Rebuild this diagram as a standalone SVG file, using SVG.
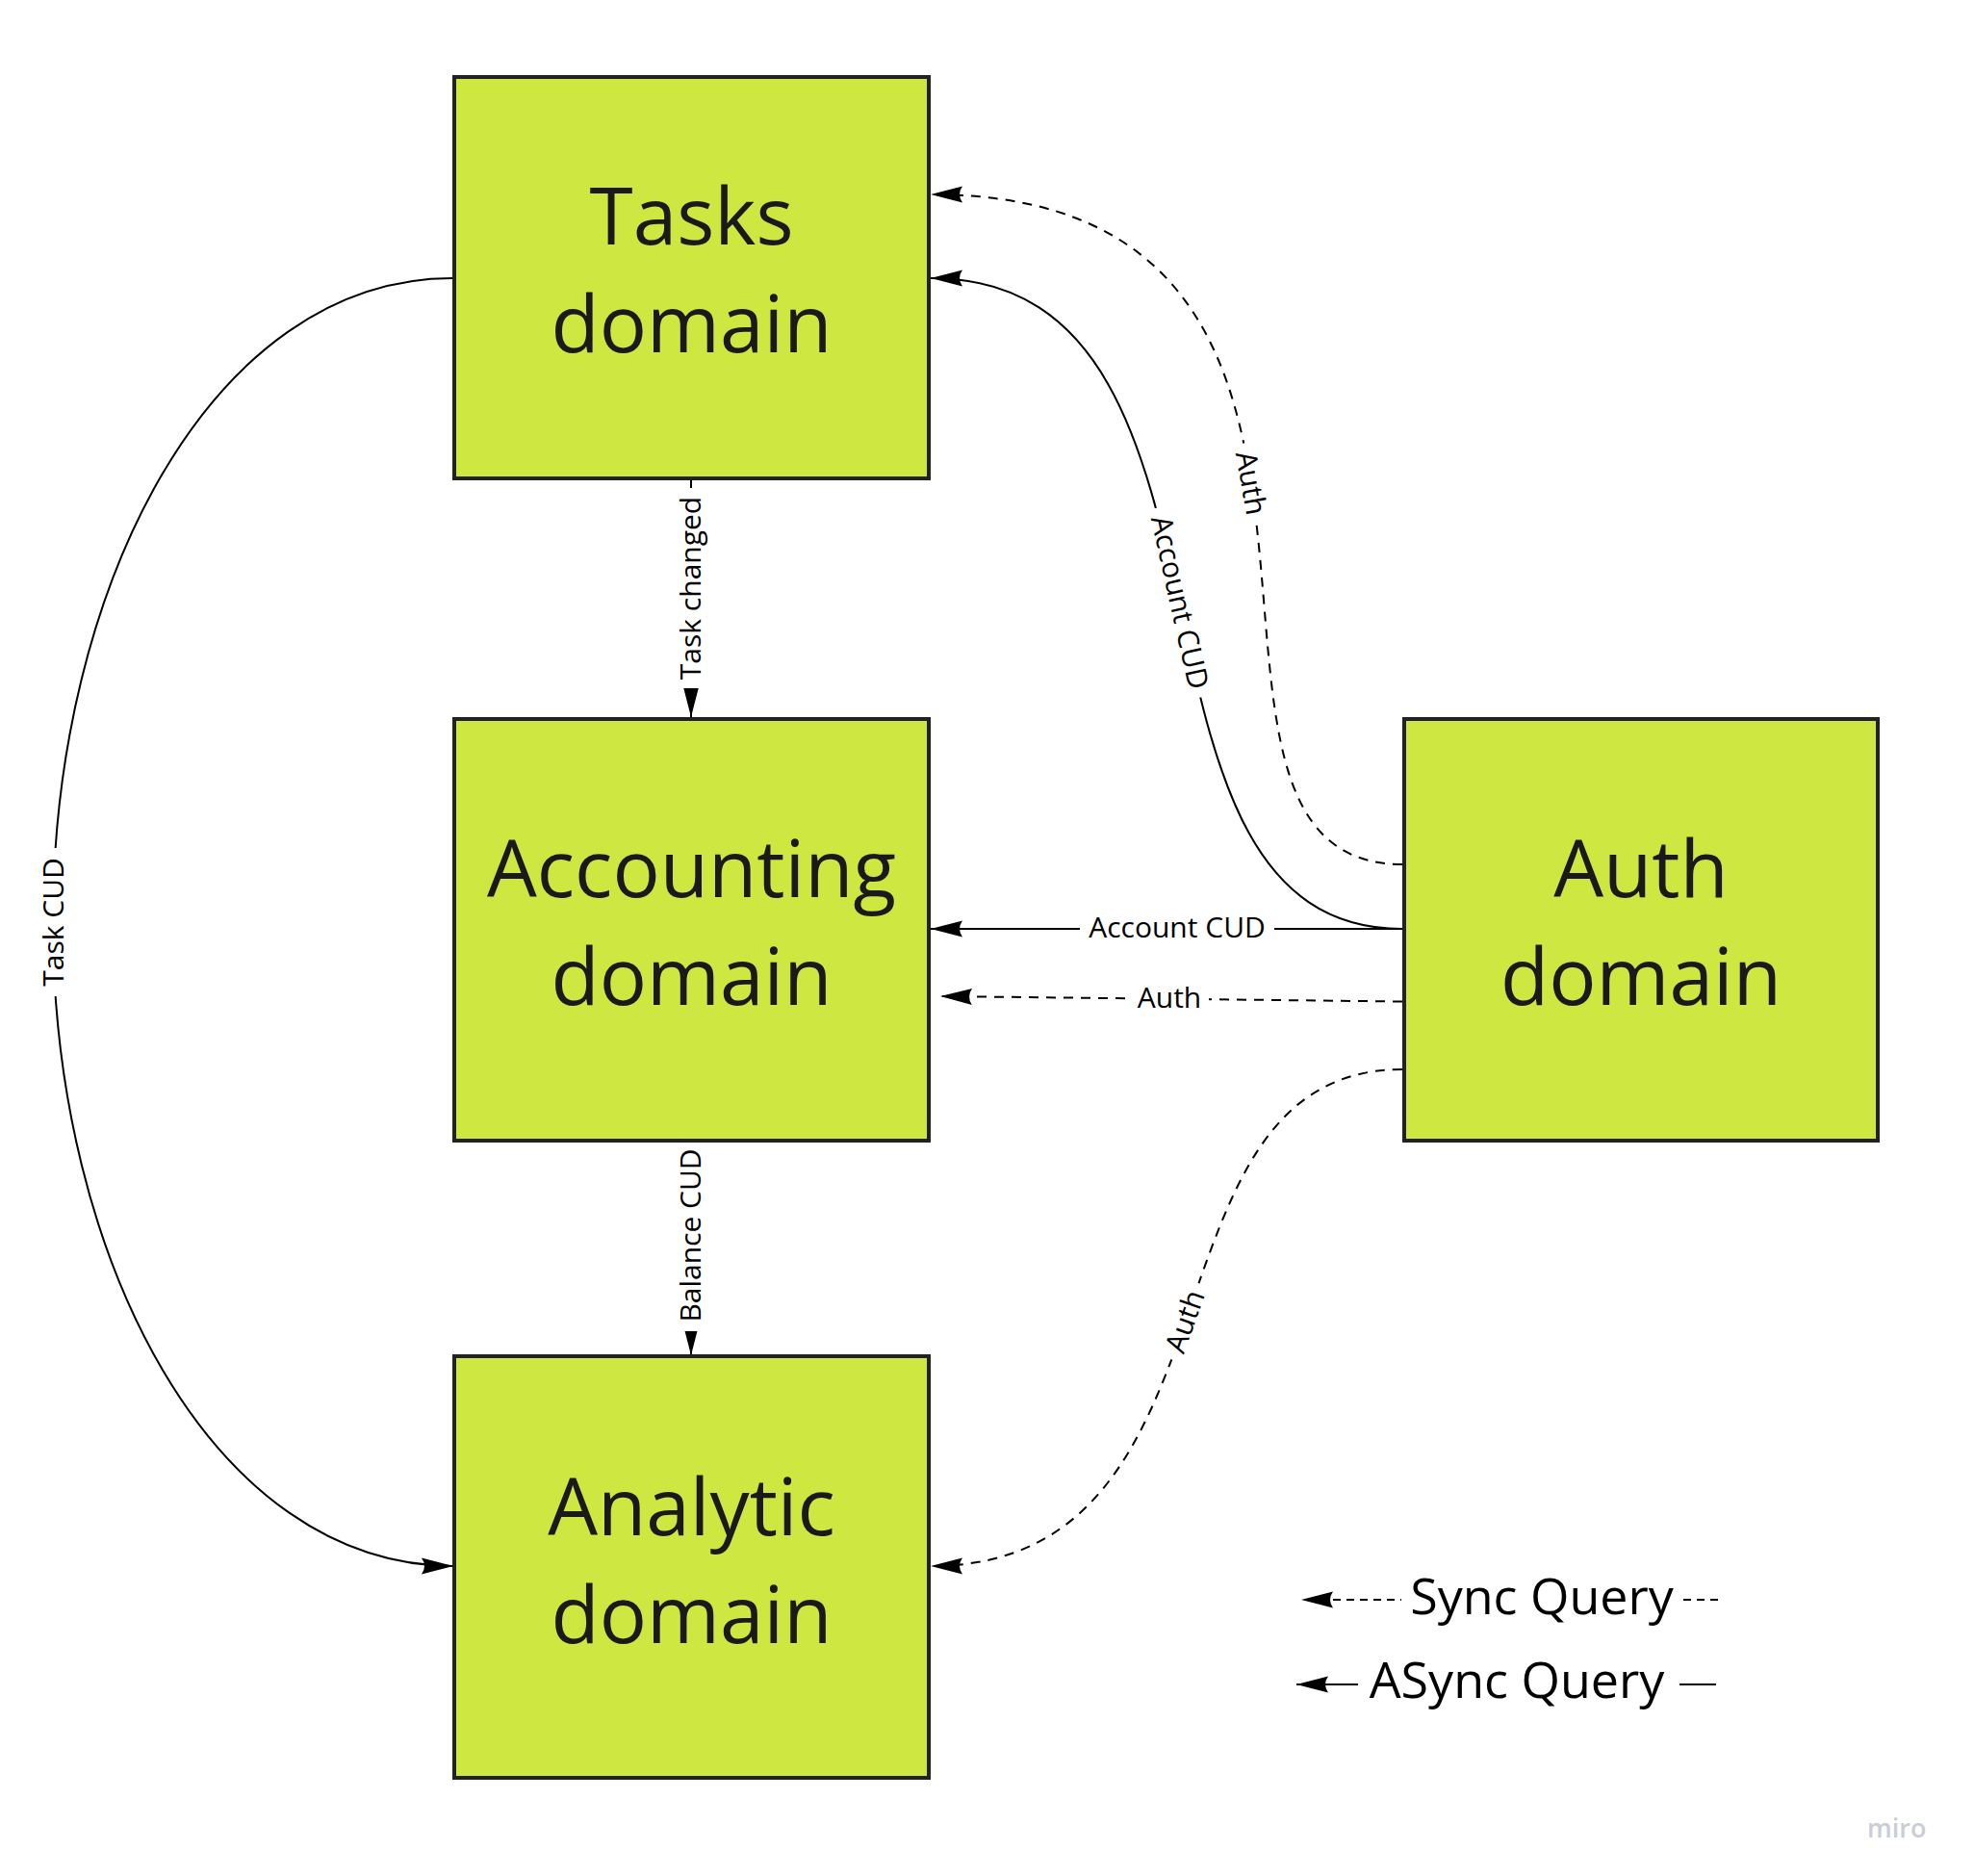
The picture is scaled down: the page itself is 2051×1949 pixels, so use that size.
<svg xmlns="http://www.w3.org/2000/svg" width="2051" height="1949" viewBox="0 0 2051 1949">
<style>
.box{fill:#cee741;stroke:#222;stroke-width:4}
.title{font-family:"Open Sans","Liberation Sans",sans-serif;font-size:82px;fill:#1a1a1a;text-anchor:middle}
.ln{fill:none;stroke:#000;stroke-width:2}
.dash{stroke-dasharray:10 8}
.lbg{fill:#fff}
.lbl{font-family:"Open Sans","Liberation Sans",sans-serif;font-size:30px;fill:#000;text-anchor:middle}
.leg{font-family:"Open Sans","Liberation Sans",sans-serif;font-size:52px;fill:#000;text-anchor:middle}
.wm{font-family:"Open Sans","Liberation Sans",sans-serif;font-size:27px;font-weight:600;fill:#c9cdd5}
</style>
<defs>
<marker id="ah" markerUnits="userSpaceOnUse" markerWidth="40" markerHeight="24" viewBox="-35 -12 37 24" refX="0" refY="0" orient="auto">
<path d="M0,0 L-33,-8.5 Q-27,0 -33,8.5 Z" fill="#000"/>
</marker>
</defs>
<rect width="2051" height="1949" fill="#fff"/>

<g id="connectors">
  <!-- Task CUD: Tasks -> Analytic -->
  <path class="ln" d="M470,289 C220,289 55,608 55,958 C55,1308 221,1627 471,1627" marker-end="url(#ah)"/>
  <g transform="translate(56,958) rotate(-90)"><rect class="lbg" x="-77" y="-17" width="154" height="34"/><text class="lbl" y="9.5">Task CUD</text></g>

  <!-- Account CUD: Auth -> Tasks -->
  <path class="ln" d="M1457,965 C1134,965 1324,289 967,289" marker-end="url(#ah)"/>
  <g transform="translate(1225,626) rotate(77.5)"><rect class="lbg" x="-101" y="-17" width="202" height="34"/><text class="lbl" y="9.5">Account CUD</text></g>

  <!-- Auth: Auth -> Tasks (sync) -->
  <path class="ln dash" d="M1457,898 C1170,898 1505,202 967,202" marker-end="url(#ah)"/>
  <g transform="translate(1299,502) rotate(80)"><rect class="lbg" x="-42" y="-17" width="84" height="34"/><text class="lbl" y="9.5">Auth</text></g>

  <!-- Auth: Auth -> Analytic (sync) -->
  <path class="ln dash" d="M1457,1111 C1176,1111 1304,1627 967,1627" marker-end="url(#ah)"/>
  <g transform="translate(1232,1373) rotate(-70.5)"><rect class="lbg" x="-42" y="-17" width="84" height="34"/><text class="lbl" y="9.5">Auth</text></g>

  <!-- Account CUD: Auth -> Accounting -->
  <path class="ln" d="M1457,965 L967,965" marker-end="url(#ah)"/>
  <g transform="translate(1223,965)"><rect class="lbg" x="-101" y="-17" width="202" height="34"/><text class="lbl" y="9">Account CUD</text></g>

  <!-- Auth: Auth -> Accounting (sync) -->
  <path class="ln dash" d="M1457,1040.5 L977,1035" marker-end="url(#ah)"/>
  <g transform="translate(1215,1038)"><rect class="lbg" x="-41" y="-17" width="82" height="34"/><text class="lbl" y="8.5">Auth</text></g>

  <!-- Task changed: Tasks -> Accounting -->
  <path class="ln" d="M718,497 L718,745" marker-end="url(#ah)"/>
  <g transform="translate(718,611) rotate(-90)"><rect class="lbg" x="-104" y="-17" width="208" height="34"/><text class="lbl" y="9.5">Task changed</text></g>

  <!-- Balance CUD: Accounting -> Analytic -->
  <path class="ln" d="M718,1185 L718,1408" marker-end="url(#ah)"/>
  <g transform="translate(718,1283.5) rotate(-90)"><rect class="lbg" x="-99.5" y="-17" width="199" height="34"/><text class="lbl" y="9.5">Balance CUD</text></g>
</g>

<g id="tasks">
  <rect class="box" x="472" y="80" width="493" height="417"/>
  <text class="title" x="718.5" y="254">Tasks</text>
  <text class="title" x="718.5" y="366">domain</text>
</g>
<g id="accounting">
  <rect class="box" x="472" y="747" width="493" height="438"/>
  <text class="title" x="718.5" y="932">Accounting</text>
  <text class="title" x="718.5" y="1043.5">domain</text>
</g>
<g id="auth">
  <rect class="box" x="1459" y="747" width="492" height="438"/>
  <text class="title" x="1705" y="932">Auth</text>
  <text class="title" x="1705" y="1043.5">domain</text>
</g>
<g id="analytic">
  <rect class="box" x="472" y="1409" width="493" height="438"/>
  <text class="title" x="718.5" y="1595">Analytic</text>
  <text class="title" x="718.5" y="1706.5">domain</text>
</g>

<g id="legend">
  <path class="ln" style="stroke-dasharray:8 6" d="M1785,1662 L1352,1662" marker-end="url(#ah)"/>
  <rect class="lbg" x="1456" y="1628" width="293" height="66"/>
  <text class="leg" x="1602" y="1677">Sync Query</text>
  <path class="ln" d="M1783,1750 L1347,1750" marker-end="url(#ah)"/>
  <rect class="lbg" x="1411" y="1716" width="334" height="66"/>
  <text class="leg" x="1576" y="1764">ASync Query</text>
</g>

<text class="wm" x="1940" y="1909">miro</text>
</svg>
